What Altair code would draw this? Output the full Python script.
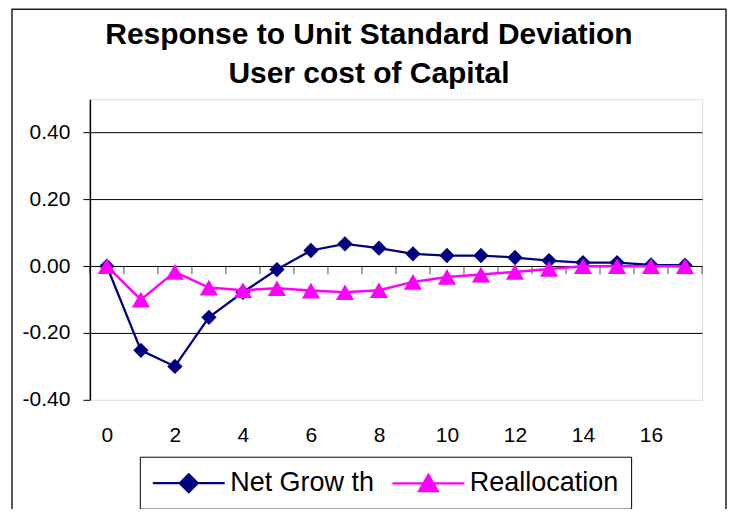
import altair as alt
import pandas as pd

# ---- data ----
steps = list(range(18))
net_growth = [0.0, -0.252, -0.300, -0.153, -0.078, -0.010, 0.047, 0.067, 0.054, 0.037,
              0.032, 0.032, 0.026, 0.017, 0.011, 0.011, 0.004, 0.003]
reallocation = [0.0, -0.100, -0.017, -0.064, -0.072, -0.066, -0.073, -0.078, -0.072, -0.047,
                -0.032, -0.025, -0.017, -0.008, 0.0, 0.0, 0.0, 0.0]
series_names = ["Net Grow th", "Reallocation"]
series_colors = ["#000080", "#FF00FF"]
y_ticks = [-0.4, -0.2, 0.0, 0.2, 0.4]
x_labels = [0, 2, 4, 6, 8, 10, 12, 14, 16]
title_lines = ["Response to Unit Standard Deviation", "User cost of Capital"]

# legend symbols: a line with the marker on it (unit = 13 px at symbolSize 676)
legend_paths = ["M-2.77,0L2.77,0M0,-0.69L0.69,0L0,0.69L-0.69,0Z",
                "M-2.77,0L2.77,0M0,-0.66L0.72,0.6L-0.72,0.6Z"]

df = pd.DataFrame({
    "step": steps * 2,
    "value": net_growth + reallocation,
    "series": [series_names[0]] * len(steps) + [series_names[1]] * len(steps),
})
bounds_df = pd.DataFrame({"b": [s - 0.5 for s in steps] + [steps[-1] + 0.5]})
legend_df = pd.DataFrame({"series": series_names})

FONT = "Liberation Sans"

x_scale = alt.Scale(domain=[steps[0] - 0.5, steps[-1] + 0.5], nice=False, zero=False)
y_scale = alt.Scale(domain=[-0.4, 0.5], nice=False, zero=False)

x_axis = alt.Axis(values=x_labels, title=None, grid=False, domain=False, ticks=False,
                  tickSize=0, labelPadding=25, labelFontSize=21, labelFont=FONT,
                  labelColor="black", labelFlush=False)
y_axis = alt.Axis(values=y_ticks, title=None,
                  labelExpr="replace(format(datum.value, '.2f'), '\u2212', '-')",
                  grid=True, gridColor="black", gridWidth=1,
                  gridOpacity={"condition": {"test": "datum.value < -0.39", "value": 0}, "value": 1},
                  domainColor="black", domainWidth=1.5, tickColor="black", tickSize=7,
                  tickWidth=1, labelPadding=13, labelFontSize=21, labelFont=FONT,
                  labelColor="black")

X = alt.X("step:Q", scale=x_scale, axis=x_axis)
Y = alt.Y("value:Q", scale=y_scale, axis=y_axis)

base = alt.Chart(df)

frame = alt.Chart(alt.Data(values=[{"f": 1}])).mark_rect(
    fillOpacity=0, stroke="#222222", strokeWidth=1.5
).encode(x=alt.value(-78), x2=alt.value(637), y=alt.value(-90), y2=alt.value(440))

ticks0 = alt.Chart(bounds_df).mark_tick(
    orient="vertical", size=8, thickness=1, yOffset=4, color="black"
).encode(x=alt.X("b:Q", scale=x_scale, axis=x_axis),
         y=alt.YDatum(0.0, type="quantitative", scale=y_scale, axis=y_axis))

line_ng = base.transform_filter(alt.datum.series == series_names[0]).mark_line(
    color=series_colors[0], strokeWidth=2.25).encode(x=X, y=Y)
pts_ng = base.transform_filter(alt.datum.series == series_names[0]).mark_point(
    shape="diamond", filled=True, size=235, color=series_colors[0], opacity=1).encode(x=X, y=Y)
line_re = base.transform_filter(alt.datum.series == series_names[1]).mark_line(
    color=series_colors[1], strokeWidth=2.5).encode(x=X, y=Y)
pts_re = base.transform_filter(alt.datum.series == series_names[1]).mark_point(
    shape="triangle-up", filled=True, size=330, color=series_colors[1], opacity=1).encode(x=X, y=Y)

leg = alt.Legend(orient="none", legendX=50, legendY=358, direction="horizontal", title=None,
                 labelFont=FONT, labelFontSize=27, labelColor="black", symbolSize=676,
                 symbolStrokeWidth=2.25, symbolOffset=22.5, strokeColor="black", padding=12,
                 columnPadding=13, labelOffset=27, fillColor="white", labelLimit=400)
legend_layer = alt.Chart(legend_df).transform_filter("false").mark_point(
    filled=True, opacity=1).encode(
    fill=alt.Fill("series:N", scale=alt.Scale(domain=series_names, range=series_colors), legend=leg),
    stroke=alt.Stroke("series:N", scale=alt.Scale(domain=series_names, range=series_colors), legend=leg),
    shape=alt.Shape("series:N", scale=alt.Scale(domain=series_names, range=legend_paths), legend=leg),
)

chart = alt.layer(frame, ticks0, line_ng, pts_ng, line_re, pts_re, legend_layer).properties(
    width=613, height=301,
    title=alt.Title(title_lines, fontSize=30, font=FONT, fontWeight="bold", color="black",
                    lineHeight=40, anchor="middle", frame="bounds", offset=-81),
    padding={"left": 82, "top": 91, "right": 26, "bottom": 109},
    autosize=alt.AutoSizeParams(type="none"),
).configure_view(stroke="#808080", strokeWidth=2).configure(background="white")

chart.save("out.html", embed_options={"renderer": "svg", "actions": False})
